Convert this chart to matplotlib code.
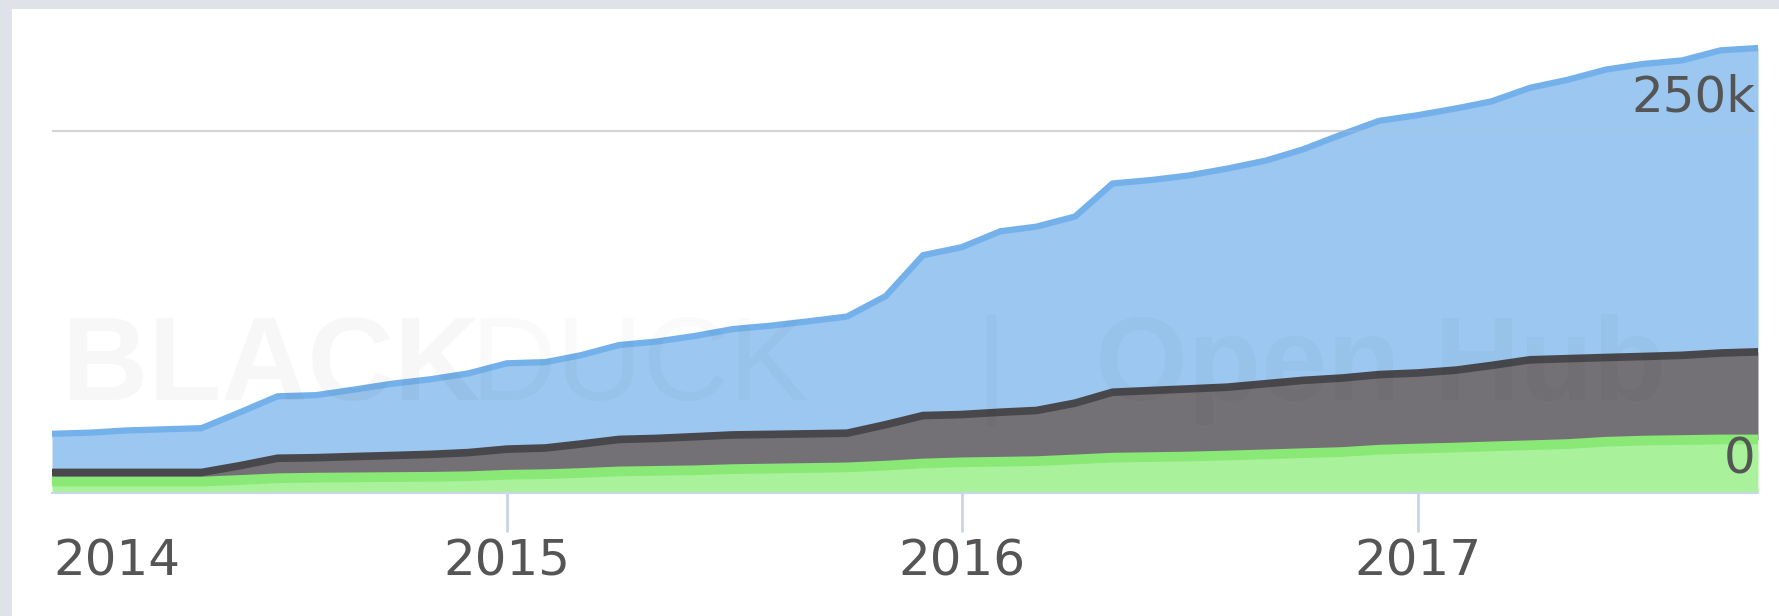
import matplotlib
matplotlib.use("Agg")
import matplotlib.pyplot as plt
import numpy as np
import pandas as pd
from matplotlib.patches import Rectangle

# monthly lines-of-code history, Jan 2014 .. Oct 2017 (thousands)
months = pd.date_range("2014-01-01", periods=46, freq="MS")
blanks = [7.9, 7.9, 7.9, 7.9, 7.9, 9.0, 10.2, 10.6, 10.8, 11.0, 11.2, 11.6, 12.6, 13.0, 13.8,
          14.9, 15.3, 15.7, 16.5, 16.9, 17.3, 17.7, 18.9, 20.4, 21.2, 21.6, 22.0, 23.2, 24.4,
          24.8, 25.2, 25.9, 26.7, 27.5, 28.3, 29.9, 30.7, 31.4, 32.2, 33.0, 33.8, 35.4, 36.2,
          36.6, 37.0, 37.0]
comments = [6.3, 6.3, 6.3, 6.3, 6.3, 9.9, 13.8, 13.8, 14.4, 14.9, 15.5, 16.3, 17.7, 18.1, 20.0,
            22.1, 22.4, 23.2, 23.6, 23.6, 23.6, 23.6, 28.3, 33.1, 33.0, 34.2, 35.0, 38.9, 45.2,
            46.0, 46.7, 47.2, 48.8, 50.3, 51.1, 51.9, 52.2, 53.5, 55.9, 59.0, 59.0, 58.2, 58.1,
            58.5, 59.7, 60.5]
code = [26.7, 27.5, 29.0, 29.8, 30.6, 36.9, 42.8, 43.2, 46.3, 49.6, 51.9, 54.7, 59.3, 59.3, 61.3,
        65.2, 66.9, 69.6, 73.1, 75.1, 77.8, 80.6, 88.8, 110.8, 115.6, 125.0, 127.0, 128.9, 144.2,
        145.4, 147.4, 151.0, 154.1, 159.6, 168.3, 175.3, 178.1, 180.8, 182.4, 187.9, 192.6,
        198.9, 202.1, 203.7, 209.1, 209.9]
year_ticks = ["2015", "2016", "2017"]

b = np.array(blanks) * 1000
c = b + np.array(comments) * 1000
t = c + np.array(code) * 1000

W, H = 1779, 616
fig = plt.figure(figsize=(W / 100, H / 100), dpi=100, facecolor="#dfe3e9")
card = Rectangle((12 / W, 0), 1, (H - 9) / H, transform=fig.transFigure,
                 facecolor="white", edgecolor="none", zorder=-5)
fig.add_artist(card)

ax = fig.add_axes([52 / W, 123 / H, (1758 - 52) / W, 456 / H])
ax.set_facecolor("none")
ax.set_zorder(1)

# gridline under the areas
ax.axhline(250000, color="#dcdcdc", lw=1.5, zorder=1)

ax.fill_between(months, c, t, color="#9bc7f0", lw=0, zorder=2)
ax.fill_between(months, b, c, color="#737176", lw=0, zorder=2)
ax.fill_between(months, 0, b, color="#a9f29b", lw=0, zorder=2)
ax.plot(months, t, color="#74b1ea", lw=4.5, solid_joinstyle="round", zorder=4)
ax.plot(months, c, color="#48474b", lw=5.5, solid_joinstyle="round", zorder=4)
ax.plot(months, b, color="#8ae876", lw=7, solid_joinstyle="round", zorder=3)
ax.axhline(250000, color="#c0c0c0", lw=1.5, alpha=0.25, zorder=5)

ax.set_xlim(months[0], months[-1])
ax.set_ylim(0, 315000)

ax.set_xticks(pd.to_datetime(["2015-01-01", "2016-01-01", "2017-01-01"]))
ax.set_xticklabels(year_ticks)
ax.set_yticks([])
ax.tick_params(axis="x", length=28, width=2, color="#c8d4e6", pad=4,
               labelsize=36, labelcolor="#555555")
# first year label sits flush left, level with the other tick labels
ax.annotate("2014", (0.0, 0.0), xycoords="axes fraction", xytext=(1, -32),
            textcoords="offset points", fontsize=36, color="#555555",
            ha="left", va="top")

for s in ["top", "left", "right"]:
    ax.spines[s].set_visible(False)
ax.spines["bottom"].set_color("#ccd6eb")
ax.spines["bottom"].set_linewidth(1.5)
ax.spines["bottom"].set_zorder(6)

ax.annotate("250k", (1.0, 250000), xycoords=("axes fraction", "data"),
            xytext=(-2, 7), textcoords="offset points", ha="right", va="bottom",
            fontsize=36, color="#555555", zorder=7)
ax.annotate("0", (1.0, 0), xycoords=("axes fraction", "data"),
            xytext=(-2, 7), textcoords="offset points", ha="right", va="bottom",
            fontsize=36, color="#555555", zorder=7)

# faint watermark over the plot
wm = dict(transform=fig.transFigure, fontsize=86, color="black",
          va="baseline", family="Liberation Sans", zorder=10)
base = (H - 400) / H
fig.text(62 / W, base, "BLACK", alpha=0.03, fontweight="bold", **wm)
fig.text(470 / W, base, "DUCK", alpha=0.02, fontweight="normal", **wm)
fig.text(975 / W, base, "|", alpha=0.025, fontweight="normal", **wm)
fig.text(1095 / W, base, "Open Hub", alpha=0.022, fontweight="bold", **wm)

fig.savefig("out.png", dpi=100, facecolor=fig.get_facecolor())
